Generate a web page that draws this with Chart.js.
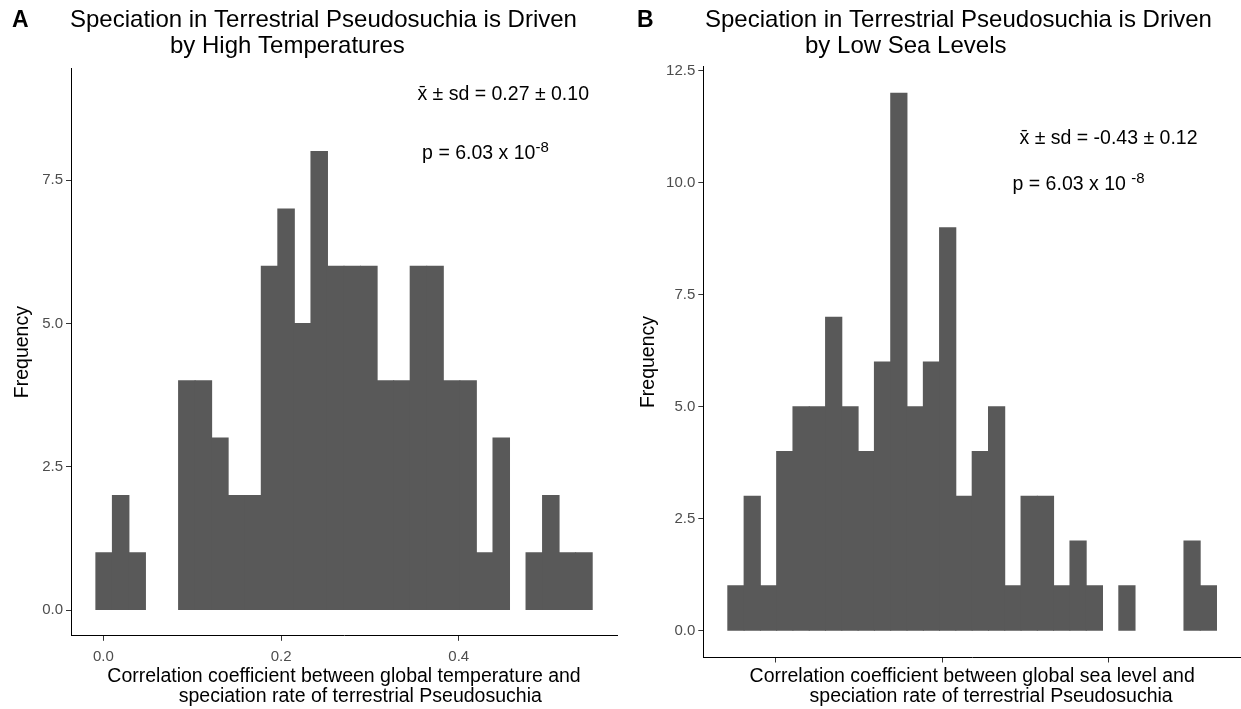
<!DOCTYPE html>
<html>
<head>
<meta charset="utf-8">
<script src="https://cdn.jsdelivr.net/npm/chart.js@4.4.1/dist/chart.umd.min.js"></script>
<style>
    html, body { margin: 0; padding: 0; background: #fff; }
    #wrap { position: relative; width: 1241px; height: 709px; overflow: hidden; }
    .panel { position: absolute; top: 0; height: 709px; }
    #panel-a { left: 0; width: 620px; }
    #panel-b { left: 620px; width: 621px; }
</style>
</head>
<body>
<div id="wrap">
    <div class="panel" id="panel-a"><canvas id="chart-a"></canvas></div>
    <div class="panel" id="panel-b"><canvas id="chart-b"></canvas></div>
</div>
<script>
// histogram A: bin centres (30 bins) and counts
const binsA = [0.0008, 0.0194, 0.0380, 0.0566, 0.0753, 0.0939, 0.1125, 0.1311, 0.1498, 0.1684,
               0.1870, 0.2056, 0.2243, 0.2429, 0.2615, 0.2801, 0.2988, 0.3174, 0.3360, 0.3546,
               0.3733, 0.3919, 0.4105, 0.4291, 0.4478, 0.4664, 0.4850, 0.5036, 0.5222, 0.5409];
const countsA = [1, 2, 1, 0, 0, 4, 4, 3, 2, 2,
                 6, 7, 5, 8, 6, 6, 6, 4, 4, 6,
                 6, 4, 4, 1, 3, 0, 1, 2, 1, 1];

// histogram B
const binsB = [-0.6478, -0.6282, -0.6086, -0.5891, -0.5695, -0.5499, -0.5303, -0.5107, -0.4912, -0.4716,
               -0.4520, -0.4324, -0.4128, -0.3933, -0.3737, -0.3541, -0.3345, -0.3149, -0.2954, -0.2758,
               -0.2562, -0.2366, -0.2170, -0.1975, -0.1779, -0.1583, -0.1387, -0.1191, -0.0996, -0.0800];
const countsB = [1, 3, 1, 4, 5, 5, 7, 5, 4, 6,
                 12, 5, 6, 9, 3, 4, 5, 1, 3, 3,
                 1, 2, 1, 0, 1, 0, 0, 0, 2, 1];

const xTicksA = [0, 0.2, 0.4];
const xTicksB = [-0.6, -0.4, -0.2];   // tick marks only, labels are blank in the figure
const yTicksA = [0, 2.5, 5, 7.5];
const yTicksB = [0, 2.5, 5, 7.5, 10, 12.5];

const titleA = ['Speciation in Terrestrial Pseudosuchia is Driven', '               by High Temperatures'];
const titleB = ['Speciation in Terrestrial Pseudosuchia is Driven', '               by Low Sea Levels'];
const xTitleA = ['Correlation coefficient between global temperature and', '      speciation rate of terrestrial Pseudosuchia'];
const xTitleB = ['Correlation coefficient between global sea level and', '       speciation rate of terrestrial Pseudosuchia'];

const statsA = ['x\u0304 \u00b1 sd = 0.27 \u00b1 0.10', 'p = 6.03 x 10', '-8'];
const statsB = ['x\u0304 \u00b1 sd = -0.43 \u00b1 0.12', 'p = 6.03 x 10 ', '-8'];
const statsXA = [0.45, 0.43];
const statsYA = [9, 8];
const statsXB = [-0.2, -0.236];
const statsYB = [11, 10];

const FONT = '"Liberation Sans", Arial, Helvetica, sans-serif';
Chart.defaults.font.family = FONT;

function textPlugin(p) {
    return {
        id: 'panelText',
        afterDraw(chart) {
            const ctx = chart.ctx;
            const xs = chart.scales.x;
            const ys = chart.scales.y;
            ctx.save();
            ctx.fillStyle = '#000';
            ctx.textBaseline = 'middle';
            ctx.textAlign = 'left';

            ctx.font = 'bold 23px ' + FONT;
            ctx.fillText(p.letter, p.letterX, 21);

            ctx.font = '24px ' + FONT;
            ctx.fillText(p.title[0], p.titleX, 20);
            ctx.fillText(p.title[1], p.titleX, 46);

            // mean / sd line
            ctx.font = '19.5px ' + FONT;
            ctx.textAlign = 'center';
            ctx.fillText(p.stats[0], xs.getPixelForValue(p.sx[0]), ys.getPixelForValue(p.sy[0]));

            // p value with superscript exponent
            ctx.textAlign = 'left';
            ctx.textBaseline = 'alphabetic';
            const mainW = ctx.measureText(p.stats[1]).width;
            ctx.font = '15px ' + FONT;
            const supW = ctx.measureText(p.stats[2]).width;
            const cx = xs.getPixelForValue(p.sx[1]);
            const cy = ys.getPixelForValue(p.sy[1]);
            const x0 = cx - (mainW + supW) / 2;
            ctx.font = '19.5px ' + FONT;
            ctx.fillText(p.stats[1], x0, cy + 7);
            ctx.font = '15px ' + FONT;
            ctx.fillText(p.stats[2], x0 + mainW, cy);
            ctx.restore();
        }
    };
}

function makeHist(canvasId, bins, counts, cfg) {
    const data = {
        datasets: [{
            data: bins.map((b, i) => ({ x: b, y: counts[i] })),
            backgroundColor: '#595959',
            borderWidth: 0,
            // slight overlap hides the seams between neighbouring bins; empty bins stay empty
            inflateAmount: c => (c.raw && c.raw.y > 0) ? 0.5 : 0,
            barPercentage: 1,
            categoryPercentage: 1
        }]
    };

    const tickFont = { size: 15 };
    const config = {
        type: 'bar',
        data,
        options: {
            responsive: true,
            maintainAspectRatio: false,
            animation: false,
            layout: { padding: cfg.padding },
            plugins: {
                legend: { display: false },
                tooltip: { enabled: false }
            },
            scales: {
                x: {
                    type: 'linear',
                    min: cfg.xMin,
                    max: cfg.xMax,
                    offset: false,
                    afterBuildTicks: axis => { axis.ticks = cfg.xTicks.map(v => ({ value: v })); },
                    afterFit: axis => { axis.height = cfg.xHeight; },
                    grid: { offset: false, drawOnChartArea: false, drawTicks: true, tickLength: 5, color: '#333333', lineWidth: 1 },
                    border: { display: true, color: '#000', width: 1 },
                    ticks: {
                        color: '#4D4D4D',
                        font: tickFont,
                        padding: 7,
                        maxRotation: 0,
                        autoSkip: false,
                        callback: v => cfg.xLabels ? Number(v).toFixed(1) : ''
                    },
                    title: {
                        display: true,
                        text: cfg.xTitle,
                        color: '#000',
                        font: { size: 19.5, lineHeight: 1.03 },
                        padding: { top: 0, bottom: 2 }
                    }
                },
                y: {
                    min: cfg.yMin,
                    max: cfg.yMax,
                    afterBuildTicks: axis => { axis.ticks = cfg.yTicks.map(v => ({ value: v })); },
                    afterFit: axis => { axis.width = cfg.yWidth; },
                    grid: { drawOnChartArea: false, drawTicks: true, tickLength: 5, color: '#333333', lineWidth: 1 },
                    border: { display: true, color: '#000', width: 1 },
                    ticks: {
                        color: '#4D4D4D',
                        font: tickFont,
                        padding: 3,
                        callback: v => Number(v).toFixed(1)
                    },
                    title: {
                        display: true,
                        text: 'Frequency',
                        color: '#000',
                        font: { size: 19.5, lineHeight: 1.03 },
                        padding: { top: cfg.yTitlePad, bottom: 0 }
                    }
                }
            }
        },
        plugins: [textPlugin(cfg.text)]
    };

    const ctx = document.getElementById(canvasId).getContext('2d');
    return new Chart(ctx, config);
}

makeHist('chart-a', binsA, countsA, {
    padding: { top: 68.5, right: 3, bottom: 0, left: 0 },
    xMin: -0.0365, xMax: 0.5781, xTicks: xTicksA, xLabels: true, xHeight: 73.2, xTitle: xTitleA,
    yMin: -0.45, yMax: 9.45, yTicks: yTicksA, yWidth: 71, yTitlePad: 13,
    text: { letter: 'A', letterX: 12, title: titleA, titleX: 70, stats: statsA, sx: statsXA, sy: statsYA }
});

makeHist('chart-b', binsB, countsB, {
    padding: { top: 66.5, right: 0, bottom: 0, left: 0 },
    xMin: -0.687, xMax: -0.0408, xTicks: xTicksB, xLabels: false, xHeight: 51.5, xTitle: xTitleB,
    yMin: -0.6, yMax: 12.6, yTicks: yTicksB, yWidth: 83.3, yTitlePad: 18.5,
    text: { letter: 'B', letterX: 17, title: titleB, titleX: 85, stats: statsB, sx: statsXB, sy: statsYB }
});
</script>
</body>
</html>
